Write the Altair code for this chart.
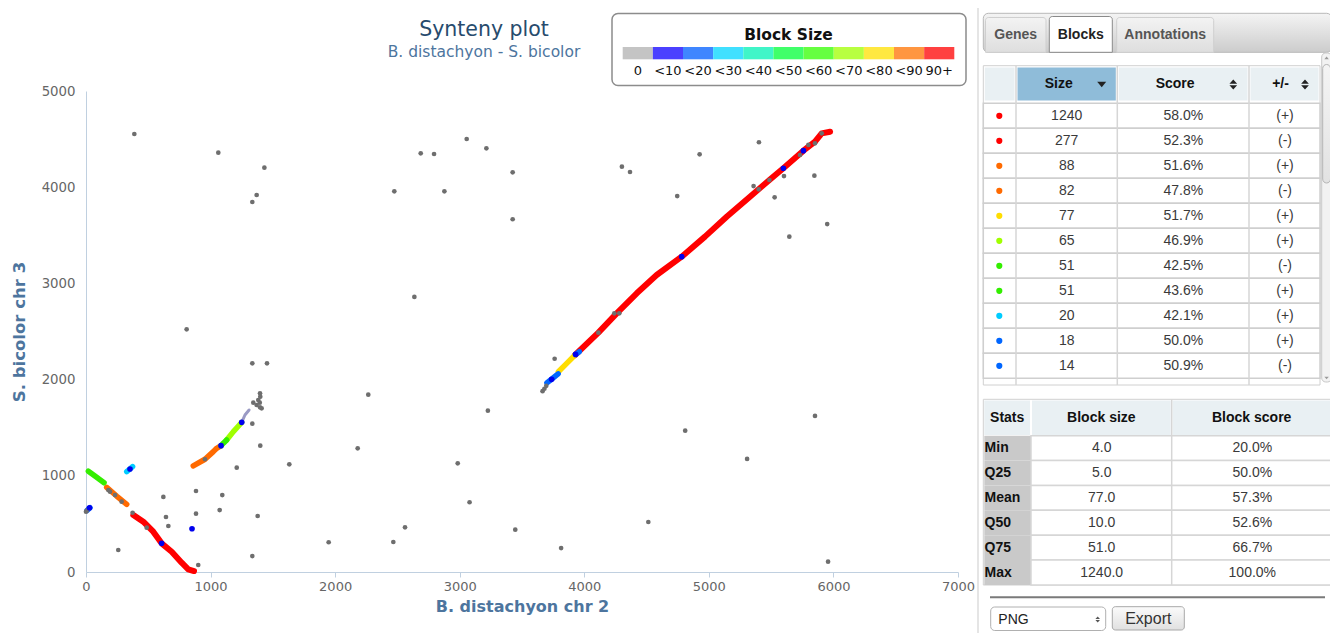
import altair as alt
import pandas as pd

# ------------------------------------------------------------------ data
X_TICKS = [0, 1000, 2000, 3000, 4000, 5000, 6000, 7000]
Y_TICKS = [0, 1000, 2000, 3000, 4000, 5000]

# isolated gene pairs (grey)
GRAY_X = [388, 1062, 1432, 1370, 1335, 2475, 2687, 2794, 3056, 3214, 3425, 2877, 3425, 2636,
          4302, 4367, 4746, 4926, 5402, 5359, 5603, 5528, 5847, 5950, 5646, 5852, 808, 1335,
          1453, 2266, 3762, 3226, 4810, 5307, 1335, 1399, 2181, 1210, 1632, 2984, 3079, 883,
          1094, 621, 883, 1073, 1378, 642, 661, 2561, 1948, 2467, 3446, 3814, 4514, 5957, 259,
          1335, 901,
          955, 193, 286, 179, 233, 374, 487, 0, 8,
          1343, 1397, 1399, 1383, 1370, 1397, 1410, 1395,
          3665, 3680, 3695, 4113, 4241, 4281, 5400, 5486, 5732, 5799, 5852, 5906]
GRAY_Y = [4553, 4359, 4203, 3919, 3846, 3957, 4352, 4345, 4501, 4404, 4155, 3957, 3667, 2859,
          4213, 4158, 3908, 4342, 4467, 4012, 4116, 3895, 4120, 3617, 3486, 1622, 2523, 2169,
          2169, 1843, 2217, 1677, 1469, 1175, 1542, 1313, 1286, 1084, 1119, 1130, 725, 842,
          800, 780, 606, 644, 582, 572, 478, 464, 309, 312, 440, 249, 520, 107, 229,
          166, 73,
          1172, 835, 731, 852, 800, 616, 461, 627, 640,
          1760, 1858, 1823, 1788, 1736, 1712, 1701, 1760,
          1880, 1905, 1935, 2488, 2689, 2689, 3978, 4075, 4335, 4439, 4456, 4560]

# single small blocks (dark blue)
BLUE_X = [851, 607, 353, 1084, 1250, 4782, 5598, 5759, 3738, 3930, 28]
BLUE_Y = [450, 298, 1071, 1313, 1556, 3278, 4197, 4380, 2003, 2262, 668]

# synteny blocks (path of gene pairs)
B1240_X = [3926, 4113, 4260, 4421, 4581, 4782, 4969, 5143, 5330, 5486, 5598, 5759, 5852, 5906, 5973]
B1240_Y = [2256, 2488, 2689, 2897, 3087, 3278, 3486, 3693, 3901, 4075, 4197, 4380, 4473, 4560, 4577]
B277_X = [380, 460, 540, 607, 688, 768, 821, 867]
B277_Y = [592, 523, 419, 298, 211, 97, 28, 10]
B88_X = [861, 955, 1022, 1049, 1084]
B88_Y = [1102, 1172, 1251, 1286, 1313]
B82_X = [166, 246, 327]
B82_Y = [880, 790, 704]
B77_X = [3792, 3859, 3926]
B77_Y = [2082, 2169, 2256]
B65_X = [1129, 1183, 1231, 1250]
B65_Y = [1372, 1459, 1528, 1556]
B51M_X = [19, 80, 145]
B51M_Y = [1048, 990, 928]
B51P_X = [1084, 1105, 1129]
B51P_Y = [1313, 1342, 1372]
B20_X = [327, 350, 374]
B20_Y = [1043, 1068, 1095]
B18_X = [3700, 3740, 3790]
B18_Y = [1965, 2008, 2060]
B14_X = [8, 32]
B14_Y = [640, 668]
B12_X = [3930, 3960]
B12_Y = [2262, 2290]
BMIX_X = [1250, 1276, 1309]
BMIX_Y = [1556, 1632, 1684]

BLOCKS = [
    ("b1240", "90+", B1240_X, B1240_Y), ("b277", "90+", B277_X, B277_Y),
    ("b88", "<90", B88_X, B88_Y), ("b82", "<90", B82_X, B82_Y),
    ("b77", "<80", B77_X, B77_Y), ("b65", "<70", B65_X, B65_Y),
    ("b51m", "<60", B51M_X, B51M_Y), ("b51p", "<60", B51P_X, B51P_Y),
    ("b20", "<30", B20_X, B20_Y), ("b18", "<20", B18_X, B18_Y),
    ("b14", "<20", B14_X, B14_Y), ("b12", "<20", B12_X, B12_Y),
    ("bmix", "mix", BMIX_X, BMIX_Y),
]

LEGEND_BINS = ["0", "<10", "<20", "<30", "<40", "<50", "<60", "<70", "<80", "<90", "90+"]

TABS = ["Genes", "Blocks", "Annotations"]
TBL_HEAD = ["Size", "Score", "+/-"]
TBL_SIZE = [1240, 277, 88, 82, 77, 65, 51, 51, 20, 18, 14]
TBL_SCORE = ["58.0%", "52.3%", "51.6%", "47.8%", "51.7%", "46.9%", "42.5%", "43.6%", "42.1%", "50.0%", "50.9%"]
TBL_STRAND = ["(+)", "(-)", "(+)", "(-)", "(+)", "(+)", "(-)", "(+)", "(+)", "(+)", "(-)"]

STAT_HEAD = ["Stats", "Block size", "Block score"]
STAT_NAMES = ["Min", "Q25", "Mean", "Q50", "Q75", "Max"]
STAT_SIZE = ["4.0", "5.0", "77.0", "10.0", "51.0", "1240.0"]
STAT_SCORE = ["20.0%", "50.0%", "57.3%", "52.6%", "66.7%", "100.0%"]

# ------------------------------------------------------------------ style
OFF = 8
W, H = 1322, 625
PLOT_FONT = "DejaVu Sans"
UI_FONT = "Liberation Sans"

CLASSES = ["90+", "<90", "<80", "<70", "<60", "<50", "<40", "<30", "<20", "<10", "0", "mix"]
POINT_COLORS = ["#ff0000", "#ff6a00", "#ffdd00", "#a0ff00", "#33ee00", "#33ff66", "#33ffcc",
                "#00ccff", "#0066ff", "#0000ee", "#707070", "#9a9ac4"]
LINE_WIDTH = {"90+": 6.0, "mix": 3.0}
LEGEND_COLORS = ["#c4c4c4", "#4b40ff", "#3f86ff", "#40e0ff", "#40f5c8", "#40ff6a", "#66ff40",
                 "#b8ff40", "#ffe840", "#ff9640", "#ff4040"]


def size_class(s):
    if s >= 90:
        return "90+"
    return "<%d" % ((s // 10 + 1) * 10)


ONE = pd.DataFrame({"k": [0]})


def V(v):
    return alt.value(v - OFF)


def box(x1, y1, x2, y2, fill="white", stroke=None, sw=1.0, r=0, **kw):
    props = dict(fill=fill, cornerRadius=r, **kw)
    if stroke:
        props.update(stroke=stroke, strokeWidth=sw)
    return alt.Chart(ONE).mark_rect(**props).encode(x=V(x1), x2=V(x2), y=V(y1), y2=V(y2))


def hline(x1, x2, y, color, w=1.0):
    return alt.Chart(ONE).mark_rule(color=color, strokeWidth=w).encode(x=V(x1), x2=V(x2), y=V(y))


def vline(x, y1, y2, color, w=1.0):
    return alt.Chart(ONE).mark_rule(color=color, strokeWidth=w).encode(x=V(x), y=V(y1), y2=V(y2))


def label(x, y, s, size=14, weight="normal", color="#333333", align="center", font=UI_FONT):
    return alt.Chart(ONE).mark_text(text=s, fontSize=size, fontWeight=weight, color=color,
                                    align=align, baseline="middle", font=font).encode(x=V(x), y=V(y))


TRI_DOWN = "M-1,-0.6L1,-0.6L0,0.6Z"
TRI_UP = "M-1,0.6L1,0.6L0,-0.6Z"
TRI_BOTH = "M-0.7,-0.12L0.7,-0.12L0,-0.92Z M-0.7,0.12L0.7,0.12L0,0.92Z"


def glyph(x, y, path, size, color):
    return alt.Chart(ONE).mark_point(shape=path, size=size, filled=True, color=color, opacity=1,
                                     strokeWidth=0).encode(x=V(x), y=V(y))


def grad(c1, c2):
    return alt.Gradient(gradient="linear", x1=0, x2=0, y1=0, y2=1,
                        stops=[alt.GradientStop(color=c1, offset=0), alt.GradientStop(color=c2, offset=1)])


layers = []

# ------------------------------------------------------------------ scatter
XS = dict(domain=[0, 7000], range=[86 - OFF, 958 - OFF], nice=False, zero=False)
YS = dict(domain=[0, 5000], range=[572 - OFF, 91 - OFF], nice=False, zero=False)

x_axis = alt.Axis(values=X_TICKS, format="d", offset=(572 - OFF) - H, grid=False, domainColor="#c0d0e0",
                  tickColor="#c0d0e0", tickSize=5, labelColor="#666666", labelFont=PLOT_FONT,
                  labelFontSize=13, labelPadding=3, labelFlush=False, labelOverlap=False,
                  title="B. distachyon chr 2", titleFont=PLOT_FONT, titleFontSize=16,
                  titleFontWeight="bold", titleColor="#4d759e", titlePadding=5)
y_axis = alt.Axis(values=Y_TICKS, format="d", offset=-(86 - OFF), grid=False, ticks=False, tickSize=0,
                  domainColor="#c0d0e0", labelColor="#666666", labelFont=PLOT_FONT,
                  labelFontSize=13.3, labelPadding=11, labelFlush=False, labelOverlap=False,
                  title="S. bicolor chr 3", titleFont=PLOT_FONT, titleFontSize=16.5,
                  titleFontWeight="bold", titleColor="#4d759e", titlePadding=14)

rows = []
for name, cls, xs, ys in BLOCKS:
    for i, (xv, yv) in enumerate(zip(xs, ys)):
        rows.append({"block": name, "cls": cls, "i": i, "x": xv, "y": yv,
                     "w": LINE_WIDTH.get(cls, 5.5)})
block_df = pd.DataFrame(rows)
gray_df = pd.DataFrame({"x": GRAY_X, "y": GRAY_Y})
blue_df = pd.DataFrame({"x": BLUE_X, "y": BLUE_Y})

layers.append(
    alt.Chart(gray_df).mark_circle(size=0.001, opacity=0).encode(
        x=alt.X("x:Q", scale=alt.Scale(**XS), axis=x_axis),
        y=alt.Y("y:Q", scale=alt.Scale(**YS), axis=y_axis))
)
layers.append(
    alt.Chart(block_df).mark_line(strokeCap="round", strokeJoin="round").encode(
        x=alt.X("x:Q", scale=alt.Scale(**XS), axis=None),
        y=alt.Y("y:Q", scale=alt.Scale(**YS), axis=None),
        detail="block:N", order="i:Q",
        strokeWidth=alt.StrokeWidth("w:Q", scale=None),
        color=alt.Color("cls:N", scale=alt.Scale(domain=CLASSES, range=POINT_COLORS), legend=None))
)
layers.append(
    alt.Chart(gray_df).mark_circle(size=22, opacity=1, color="#6e6e6e").encode(
        x=alt.X("x:Q", scale=alt.Scale(**XS), axis=None),
        y=alt.Y("y:Q", scale=alt.Scale(**YS), axis=None))
)
layers.append(
    alt.Chart(blue_df).mark_circle(size=32, opacity=1, color="#0000ee").encode(
        x=alt.X("x:Q", scale=alt.Scale(**XS), axis=None),
        y=alt.Y("y:Q", scale=alt.Scale(**YS), axis=None))
)

# titles
layers.append(label(484, 30, "Synteny plot", size=20.5, color="#274b6d", font=PLOT_FONT))
layers.append(label(484, 51.5, "B. distachyon - S. bicolor", size=15.5, color="#4d759e", font=PLOT_FONT))

# colour legend box
layers.append(box(612, 13.5, 966, 85.5, fill="white", stroke="#8c8c8c", sw=1.5, r=6))
layers.append(label(788.5, 34.5, "Block Size", size=15.5, weight="bold", color="#111111", font=PLOT_FONT))
leg_df = pd.DataFrame({"bin": LEGEND_BINS})
leg_x = alt.X("bin:N", scale=alt.Scale(domain=LEGEND_BINS, range=[622.7 - OFF, 954.3 - OFF],
                                       paddingInner=0, paddingOuter=0), axis=None)
layers.append(
    alt.Chart(leg_df).mark_rect().encode(
        x=leg_x, y=V(47), y2=V(59.3),
        color=alt.Color("bin:N", scale=alt.Scale(domain=LEGEND_BINS, range=LEGEND_COLORS), legend=None))
)
layers.append(
    alt.Chart(leg_df).mark_text(font=PLOT_FONT, fontSize=13, color="#111111", baseline="middle").encode(
        x=leg_x, y=V(70.5), text="bin:N")
)

# ------------------------------------------------------------------ right panel
layers.append(vline(978, 0, 633, "#dddddd", 1.5))

# tab bar
layers.append(box(983.3, 13.3, 1331.7, 52.3, fill=grad("#f4f4f4", "#cccccc"), stroke="#b8b8b8", sw=1, r=5))
TAB_X = [(985.5, 1046), (1049.3, 1112.3), (1116.7, 1213.7)]
for (tx1, tx2), name in zip(TAB_X, TABS):
    sel = name == "Blocks"
    layers.append(box(tx1, 16.5 if sel else 17.5, tx2, 52.3,
                      fill="white" if sel else grad("#f3f3f3", "#dedede"),
                      stroke="#8a8a8a" if sel else "#cfcfcf", sw=1,
                      cornerRadiusTopLeft=3, cornerRadiusTopRight=3))
    layers.append(label((tx1 + tx2) / 2, 35, name, size=14, weight="bold",
                        color="#222222" if sel else "#555555"))

# blocks table
C = [983.3, 1016, 1117.3, 1249, 1320]
layers.append(box(C[0], 65.7, C[4], 385, fill="white", stroke="#d0d0d0", sw=1))
HEAD_FILL = ["#e9f0f3", "#8fbcd9", "#e9f0f3", "#e9f0f3"]
for j in range(4):
    layers.append(box(C[j] + 1.5, 67.5, C[j + 1] - 1.5, 100.5, fill=HEAD_FILL[j]))
for j, name in enumerate(TBL_HEAD):
    layers.append(label((C[j + 1] + C[j + 2]) / 2 - (8 if j < 2 else 4), 84.3, name,
                        size=14, weight="bold", color="#111111"))
layers.append(glyph(1101.7, 84.5, TRI_DOWN, 81, "#222222"))
layers.append(glyph(1233.3, 84.5, TRI_BOTH, 121, "#222222"))
layers.append(glyph(1305, 84.5, TRI_BOTH, 121, "#222222"))

tbl = pd.DataFrame({
    "r": [str(i) for i in range(len(TBL_SIZE))],
    "size": [str(s) for s in TBL_SIZE],
    "score": TBL_SCORE,
    "strand": TBL_STRAND,
    "cls": [size_class(s) for s in TBL_SIZE],
})
row_y = alt.Y("r:N", scale=alt.Scale(domain=list(tbl["r"]), range=[103.3 - OFF, 378.3 - OFF],
                                     paddingInner=0, paddingOuter=0), axis=None)
layers.append(alt.Chart(tbl).mark_rect(fill="white", stroke="#cfcfcf", strokeWidth=1.5).encode(
    y=row_y, x=V(C[0]), x2=V(C[4])))
for cx in C[1:4]:
    layers.append(vline(cx, 65.7, 385, "#d6d6d6", 1.5))
layers.append(alt.Chart(tbl).mark_circle(size=38, opacity=1).encode(
    y=row_y, x=V(999.3),
    color=alt.Color("cls:N", scale=alt.Scale(domain=CLASSES, range=POINT_COLORS), legend=None)))
for field, cx in (("size", 1066.7), ("score", 1183.3), ("strand", 1285)):
    layers.append(alt.Chart(tbl).mark_text(font=UI_FONT, fontSize=14, color="#3a3a3a",
                                           baseline="middle").encode(y=row_y, x=V(cx), text=f"{field}:N"))

# scrollbar
layers.append(box(1321.7, 53, 1331.5, 382, fill="#f2f2f2", stroke="#c8c8c8", sw=1, r=4))
layers.append(box(1322.7, 64.5, 1330.5, 183, fill=grad("#f4f4f4", "#e2e2e2"), stroke="#b4b4b4", sw=1, r=4))
layers.append(glyph(1326.6, 57.8, TRI_UP, 20, "#9a9a9a"))
layers.append(glyph(1326.6, 378, TRI_DOWN, 20, "#9a9a9a"))

# stats table
S = [983.3, 1031, 1171.7, 1331.7]
layers.append(box(S[0], 399.3, S[3], 585, fill="white", stroke="#d0d0d0", sw=1))
for j in range(3):
    layers.append(box(S[j] + 1, 400.5, S[j + 1] - 1, 435, fill="#e9f0f3"))
for j, name in enumerate(STAT_HEAD):
    layers.append(label((S[j] + S[j + 1]) / 2, 417.7, name, size=14, weight="bold", color="#111111"))

st = pd.DataFrame({"r": STAT_NAMES, "size": STAT_SIZE, "score": STAT_SCORE})
st_y = alt.Y("r:N", scale=alt.Scale(domain=STAT_NAMES, range=[435.7 - OFF, 585 - OFF],
                                    paddingInner=0, paddingOuter=0), axis=None)
layers.append(alt.Chart(st).mark_rect(fill="#c9c9c9").encode(y=st_y, x=V(S[0] + 1), x2=V(S[1])))
layers.append(alt.Chart(st).mark_rect(fill="white", stroke="#d6d6d6", strokeWidth=1.5).encode(
    y=st_y, x=V(S[1]), x2=V(S[3])))
layers.append(vline(S[2], 399.3, 585, "#d6d6d6", 1.5))
layers.append(alt.Chart(st).mark_text(font=UI_FONT, fontSize=14, fontWeight="bold", color="#111111",
                                      baseline="middle", align="left").encode(y=st_y, x=V(984.6), text="r:N"))
for field, cx in (("size", 1101.7), ("score", 1252.3)):
    layers.append(alt.Chart(st).mark_text(font=UI_FONT, fontSize=14, color="#3a3a3a",
                                          baseline="middle").encode(y=st_y, x=V(cx), text=f"{field}:N"))

# export controls
layers.append(hline(990, 1325, 597.3, "#7a7a7a", 2))
layers.append(box(990.7, 607, 1105.7, 630.5, fill="white", stroke="#b0b0b0", sw=1, r=4))
layers.append(label(998.3, 619.5, "PNG", size=14, color="#222222", align="left"))
layers.append(glyph(1097.7, 619.5, TRI_BOTH, 42, "#555555"))
layers.append(box(1112.3, 606.7, 1184.3, 630, fill=grad("#fbfbfb", "#e0e0e0"), stroke="#a8a8a8", sw=1, r=3))
layers.append(label(1148.3, 619, "Export", size=16, color="#333333"))

chart = alt.layer(*layers).resolve_scale(
    x="independent", y="independent", color="independent", strokeWidth="independent"
).properties(
    width=W, height=H, padding=0, background="white",
    autosize=alt.AutoSizeParams(type="none"),
).configure_view(strokeWidth=0)

chart.save("out.html", embed_options={"renderer": "svg", "actions": False})
